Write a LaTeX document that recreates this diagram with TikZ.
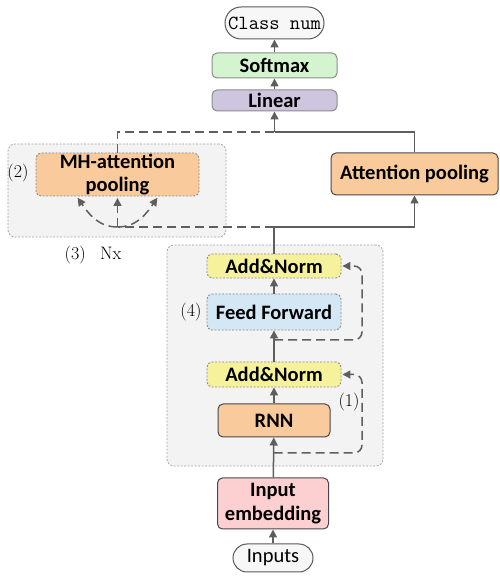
\documentclass[tikz,border=0pt]{standalone}
\usepackage{fontspec}
\setmainfont{Carlito}
\newfontfamily\numfont{Latin Modern Roman}
\usetikzlibrary{arrows.meta}

\definecolor{linkgrey}{HTML}{5E5E5E}
\definecolor{groupgrey}{HTML}{F3F3F3}
\definecolor{orangefill}{HTML}{F9CB9C}
\definecolor{greenfill}{HTML}{D4F4CF}
\definecolor{lavfill}{HTML}{CEC6DE}
\definecolor{yellowfill}{HTML}{F6F29B}
\definecolor{bluefill}{HTML}{D3E7F5}
\definecolor{pinkfill}{HTML}{FCD0D0}
\definecolor{pillfill}{HTML}{F7F7F7}

\begin{document}
\begin{tikzpicture}[x=1pt,y=1pt,
  box/.style={rounded corners=5pt, inner sep=0pt, align=center,
    font=\bfseries\fontsize{20.5}{23.5}\selectfont, text=black},
  solidbox/.style={box, draw=black!72, line width=1pt},
  greybox/.style={box, draw=black!45, line width=1pt},
  dotbox/.style={box, draw=black!45, line width=0.9pt, dash pattern=on 2pt off 1.5pt},
  pill/.style={inner sep=0pt, align=center, draw=black!65, fill=pillfill, line width=1pt},
  group/.style={draw=black!35, fill=groupgrey, rounded corners=7pt,
    line width=0.8pt, dash pattern=on 2pt off 1.5pt},
  link/.style={draw=linkgrey, line width=1.5pt},
  tipstyle/.style={-{Triangle[length=8pt,width=8pt]}},
  arr/.style={link, tipstyle},
  dlink/.style={link, dash pattern=on 9pt off 5pt},
  darr/.style={dlink, tipstyle, shorten >=1pt},
  tag/.style={font=\numfont\fontsize{18}{18}\selectfont, text=black, inner sep=0pt}
]
\useasboundingbox (0,0) rectangle (499,576);

% group frames
\node[group, minimum width=218, minimum height=93] (mhgroup) at (117,385.5) {};
\node[group, minimum width=216, minimum height=221] (encgroup) at (275,220.5) {};

% output head
\node[pill, rounded corners=16pt, minimum width=99, minimum height=32,
  font=\ttfamily\fontsize{20}{20}\selectfont] (classnum) at (274.5,553) {Class num};
\node[greybox, fill=greenfill, minimum width=125, minimum height=25] (softmax) at (274.5,510.5) {Softmax};
\node[greybox, fill=lavfill, minimum width=125, minimum height=21] (linear) at (274.5,475.5) {Linear};

% pooling branches
\node[solidbox, fill=orangefill, minimum width=167, minimum height=42] (attpool) at (414.5,402) {Attention pooling};
\node[dotbox, fill=orangefill, minimum width=163, minimum height=43] (mh) at (117.5,401.5) {MH-attention\\pooling};

% encoder block
\node[dotbox, fill=yellowfill, minimum width=134, minimum height=24] (an2) at (274,310) {Add\&Norm};
\node[dotbox, fill=bluefill, minimum width=134, minimum height=36] (ff) at (274,264) {Feed Forward};
\node[dotbox, fill=yellowfill, minimum width=134, minimum height=25] (an1) at (274,201.5) {Add\&Norm};
\node[solidbox, fill=orangefill, minimum width=112, minimum height=33] (rnn) at (274,155.5) {RNN};

% input side
\node[solidbox, fill=pinkfill, minimum width=111, minimum height=51] (emb) at (273,72.5) {Input\\embedding};
\node[pill, rounded corners=14pt, minimum width=80, minimum height=28,
  font=\fontsize{20.5}{20.5}\selectfont] (inputs) at (273,18) {Inputs};

% numbered tags
\node[tag] (t1) at (349,174) {(1)};
\node[tag] (t2) at (18,403) {(2)};
\node[tag] (t3) at (93,321) {(3)\hspace{0.8em}Nx};
\node[tag] (t4) at (191,264) {(4)};

% junction points
\coordinate (jres1) at (273.5,123);
\coordinate (jres2) at (274,236);
\coordinate (jmid) at (274,349);
\coordinate (jmh) at (117.5,349);
\coordinate (jtop) at (274.5,444);
\coordinate (mhl) at (77,379);
\coordinate (mhc) at (117.5,379);
\coordinate (mhr) at (158,379);

% main data flow
\draw[arr] (inputs) -- (emb);
\draw[arr] (emb) -- (rnn);
\draw[arr] (rnn) -- (an1);
\draw[arr] (an1) -- (ff);
\draw[arr] (ff) -- (an2);
\draw[arr] (an2.north) -- (jmid) -| (attpool.south);
\draw[link] (attpool.north) |- (jtop);
\draw[arr] (jtop) -- (linear.south);
\draw[arr] (linear) -- (softmax);
\draw[arr] (softmax) -- (classnum);

% residual connections
\draw[darr, rounded corners=8pt] (jres1) -- (362,123) -- (362,201.5) -- (an1.east);
\draw[darr, rounded corners=8pt] (jres2) -- (362,236) -- (362,310) -- (an2.east);

% multi-head branch
\draw[dlink] (jmid) -- (jmh);
\draw[dlink] (mh.north) |- (jtop);
\draw[darr] (jmh) to[out=180,in=-55] (mhl);
\draw[darr] (jmh) -- (mhc);
\draw[darr] (jmh) to[out=0,in=235] (mhr);
\end{tikzpicture}
\end{document}
